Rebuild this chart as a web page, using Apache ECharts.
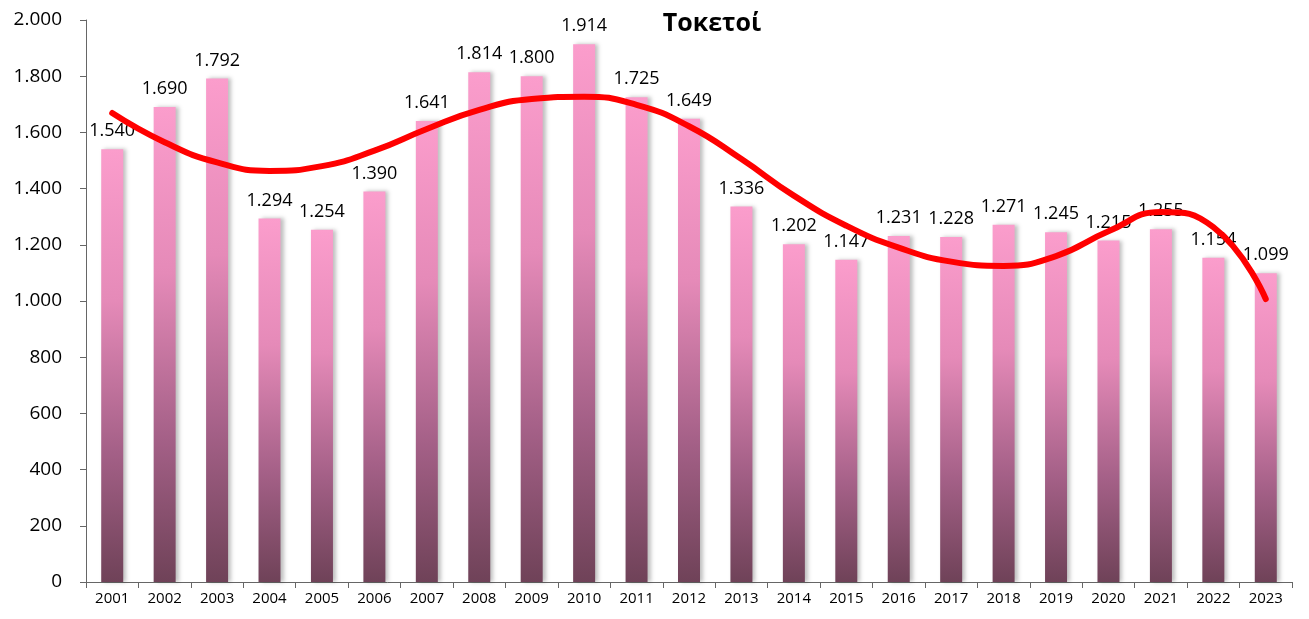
<!DOCTYPE html>
<html lang="el">
  <head>
    <meta charset="UTF-8" />
    <title>Τοκετοί</title>
    <style>
      html, body { margin: 0; padding: 0; background: #fff; }
      #main { width: 1309px; height: 619px; }
    </style>
  </head>
  <body>
    <div id="main"></div>

    <script src="https://cdn.jsdelivr.net/npm/echarts@6.0.0/dist/echarts.min.js"></script>
    <script>
      // ===== data =====
      const years = ['2001', '2002', '2003', '2004', '2005', '2006', '2007', '2008', '2009', '2010', '2011', '2012',
        '2013', '2014', '2015', '2016', '2017', '2018', '2019', '2020', '2021', '2022', '2023']
      const births = [1540, 1690, 1792, 1294, 1254, 1390, 1641, 1814, 1800, 1914, 1725, 1649,
        1336, 1202, 1147, 1231, 1228, 1271, 1245, 1215, 1255, 1154, 1099]
      // trend line at each year
      const trend = [1669, 1565, 1493, 1463, 1480, 1535, 1612, 1680, 1719, 1727, 1698, 1622,
        1505, 1375, 1268, 1190, 1140, 1125, 1160, 1248, 1317, 1263, 1007]

      const fmt = v => String(v).replace(/\B(?=(\d{3})+(?!\d))/g, '.')

      const myChart = echarts.init(document.getElementById('main'))

      const option = {
        backgroundColor: '#ffffff',
        animation: false,
        title: {
          text: 'Τοκετοί',
          left: 707,
          top: 6,
          textAlign: 'center',
          textStyle: {
            fontFamily: 'Open Sans',
            fontWeight: 'bold',
            fontSize: 25,
            color: '#000'
          }
        },
        grid: { left: 86, right: 17, top: 20, bottom: 37 },
        xAxis: {
          type: 'category',
          data: years,
          axisLine: { lineStyle: { color: '#666', width: 1 } },
          axisTick: { show: true, length: 6, lineStyle: { color: '#666' } },
          axisLabel: { color: '#000', fontSize: 15, fontFamily: 'Open Sans', margin: 9 }
        },
        yAxis: {
          type: 'value',
          min: 0,
          max: 2000,
          interval: 200,
          splitLine: { show: false },
          axisLine: { show: true, lineStyle: { color: '#666', width: 1 } },
          axisTick: { show: true, length: 6, lineStyle: { color: '#666' } },
          axisLabel: {
            color: '#000',
            fontSize: 19,
            fontFamily: 'Open Sans',
            margin: 24,
            formatter: fmt
          }
        },
        series: [
          {
            type: 'bar',
            data: births,
            barWidth: 22,
            z: 2,
            itemStyle: {
              color: new echarts.graphic.LinearGradient(0, 0, 0, 1, [
                { offset: 0, color: '#fb9dcc' },
                { offset: 0.35, color: '#e58ab8' },
                { offset: 0.7, color: '#a46087' },
                { offset: 1, color: '#6f4258' }
              ]),
              shadowColor: 'rgba(0,0,0,0.25)',
              shadowBlur: 4,
              shadowOffsetX: 3
            },
            label: {
              show: true,
              position: 'top',
              distance: 9,
              color: '#000',
              fontSize: 18,
              fontFamily: 'Open Sans',
              formatter: p => fmt(p.value)
            }
          },
          {
            type: 'line',
            data: trend,
            smooth: true,
            symbol: 'none',
            z: 5,
            lineStyle: { color: '#ff0000', width: 6, cap: 'round' }
          }
        ]
      }

      myChart.setOption(option)
    </script>
  </body>
</html>
